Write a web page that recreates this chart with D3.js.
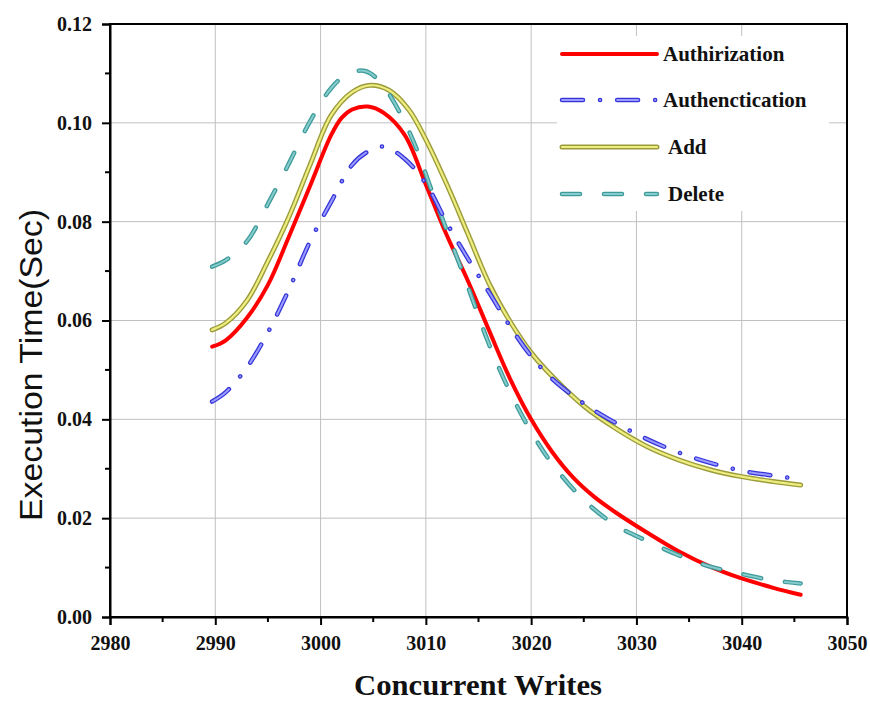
<!DOCTYPE html>
<html><head><meta charset="utf-8">
<script src="https://cdn.jsdelivr.net/npm/d3@7"></script>
<style>body{margin:0;background:#fff}</style>
</head><body>
<svg id="chart" width="870" height="702"></svg>
<script>
const seriesNames = ["Authirization", "Authenctication", "Add", "Delete"];
const xTicks = [2980, 2990, 3000, 3010, 3020, 3030, 3040, 3050];
const yTicks = [0.00, 0.02, 0.04, 0.06, 0.08, 0.10, 0.12];

const authorizationX = [2989.7, 2991, 2993, 2995, 2997, 2999, 3001, 3002, 3003, 3004.5, 3006, 3008, 3010, 3012, 3014, 3016, 3018, 3020, 3022, 3024, 3026, 3028, 3031, 3034, 3037, 3040, 3043, 3045.6];
const authorizationY = [0.0547, 0.0560, 0.0605, 0.0672, 0.0770, 0.0872, 0.0975, 0.1010, 0.1027, 0.1033, 0.1020, 0.0975, 0.0875, 0.0772, 0.0680, 0.0580, 0.0482, 0.0400, 0.0334, 0.0282, 0.0243, 0.0212, 0.0171, 0.0133, 0.0102, 0.0078, 0.0059, 0.0045];

const authenticationX = [2989.7, 2991, 2993, 2995, 2997, 2999, 3001, 3003, 3004.5, 3006, 3008, 3010, 3012, 3014, 3016, 3018, 3020, 3022, 3025, 3028, 3031, 3034, 3037, 3040, 3043, 3045.5];
const authenticationY = [0.0436, 0.0455, 0.0505, 0.0576, 0.0663, 0.0760, 0.0840, 0.0915, 0.0942, 0.0952, 0.0927, 0.0877, 0.0797, 0.0725, 0.0657, 0.0588, 0.0528, 0.0482, 0.0432, 0.0393, 0.0360, 0.0333, 0.0312, 0.0296, 0.0286, 0.0279];

const addX = [2989.7, 2991, 2993, 2995, 2997, 2999, 3001, 3003, 3004.7, 3006.5, 3008.4, 3010, 3012, 3014, 3016, 3018, 3020, 3022, 3025, 3028, 3031, 3034, 3037, 3040, 3043, 3045.6];
const addY = [0.0581, 0.0595, 0.0640, 0.0720, 0.0810, 0.0915, 0.1015, 0.1062, 0.1076, 0.1066, 0.1026, 0.0966, 0.0875, 0.0775, 0.0675, 0.0598, 0.0535, 0.0487, 0.0427, 0.0382, 0.0345, 0.0318, 0.0298, 0.0284, 0.0274, 0.0267];

const deleteX = [2989.7, 2991, 2993, 2995, 2997, 2999, 3001, 3002.5, 3004.2, 3005.6, 3007.5, 3009.2, 3010.5, 3012, 3014, 3016, 3018, 3020, 3022, 3025, 3028, 3031, 3034, 3037, 3040, 3043, 3045.6];
const deleteY = [0.0709, 0.0722, 0.0760, 0.0836, 0.0918, 0.1003, 0.1070, 0.1098, 0.1105, 0.1084, 0.1022, 0.0943, 0.0866, 0.0782, 0.0668, 0.0552, 0.0455, 0.0375, 0.0310, 0.0237, 0.0186, 0.0154, 0.0125, 0.0102, 0.0087, 0.0074, 0.0068];

const svg = d3.select("#chart");
const pLeft = 110, pRight = 847, pTop = 24, pBottom = 617;
const x = d3.scaleLinear().domain([2980, 3050]).range([pLeft, pRight]);
const y = d3.scaleLinear().domain([0, 0.12]).range([pBottom, pTop]);

// grid
const grid = svg.append("g");
xTicks.slice(1, -1).forEach(t => grid.append("line").attr("x1", x(t)).attr("x2", x(t)).attr("y1", pTop).attr("y2", pBottom).attr("stroke", "#c0c0c0").attr("stroke-width", 1));
yTicks.slice(1, -1).forEach(t => grid.append("line").attr("x1", pLeft).attr("x2", pRight).attr("y1", y(t)).attr("y2", y(t)).attr("stroke", "#c0c0c0").attr("stroke-width", 1));

// legend background
svg.append("rect").attr("x", 557).attr("y", 36).attr("width", 272).attr("height", 175).attr("fill", "#fff");

const styles = [
  {outer: "#ff0000", inner: "#ff0000", wo: 4, wi: 4, dash: null},
  {outer: "#3434d8", inner: "#9a9aff", wo: 4.5, wi: 2, dash: "21,17,0.1,17"},
  {outer: "#9c9c3c", inner: "#eeee80", wo: 5, wi: 2.2, dash: null},
  {outer: "#3e9a9a", inner: "#86cccc", wo: 4.5, wi: 2, dash: "18,24"}
];
const data = [
  authorizationX.map((v, i) => [v, authorizationY[i]]),
  authenticationX.map((v, i) => [v, authenticationY[i]]),
  addX.map((v, i) => [v, addY[i]]),
  deleteX.map((v, i) => [v, deleteY[i]])
];
const line = d3.line().x(d => x(d[0])).y(d => y(d[1])).curve(d3.curveCatmullRom.alpha(0.5));

function drawStyled(g, pathD, s) {
  g.append("path").attr("d", pathD).attr("fill", "none").attr("stroke", s.outer).attr("stroke-width", s.wo)
    .attr("stroke-linecap", "round").attr("stroke-linejoin", "round").attr("stroke-dasharray", s.dash);
  if (s.inner !== s.outer)
    g.append("path").attr("d", pathD).attr("fill", "none").attr("stroke", s.inner).attr("stroke-width", s.wi)
      .attr("stroke-linecap", "round").attr("stroke-linejoin", "round").attr("stroke-dasharray", s.dash);
}
const lines = svg.append("g");
[2, 0, 3, 1].forEach(i => drawStyled(lines, line(data[i]), styles[i]));

// legend
const legendY = [54, 100, 147, 194];
const legendTextX = [663, 663, 668, 668];
const lg = svg.append("g");
seriesNames.forEach((n, i) => {
  drawStyled(lg, `M562,${legendY[i]}L657,${legendY[i]}`, styles[i]);
  lg.append("text").attr("x", legendTextX[i]).attr("y", legendY[i] + 7).text(n)
    .attr("font-family", "Liberation Serif, Times New Roman, serif").attr("font-weight", "bold").attr("font-size", 21).attr("fill", "#111");
});

// frame
svg.append("rect").attr("x", pLeft).attr("y", pTop).attr("width", pRight - pLeft).attr("height", pBottom - pTop).attr("fill", "none").attr("stroke", "#000").attr("stroke-width", 2);

// axes
const xAxis = d3.axisBottom(x).tickValues(xTicks).tickSize(8).tickFormat(d3.format("d"));
const gx = svg.append("g").attr("transform", `translate(0,${pBottom})`).call(xAxis);
const yAxis = d3.axisLeft(y).tickValues(yTicks).tickSize(8).tickFormat(d3.format(".2f"));
const gy = svg.append("g").attr("transform", `translate(${pLeft},0)`).call(yAxis);
[gx, gy].forEach(g => {
  g.select(".domain").attr("stroke-width", 2);
  g.selectAll(".tick line").attr("stroke-width", 2);
  g.selectAll("text").attr("font-family", "Liberation Serif, Times New Roman, serif").attr("font-weight", "bold").attr("font-size", 20).attr("fill", "#111");
});
gx.selectAll("text").attr("dy", "1.1em");
gy.selectAll("text").attr("x", -18);
// minor ticks
const xMinor = xTicks.slice(0, -1).map(t => t + 5);
const yMinor = yTicks.slice(0, -1).map(t => t + 0.01);
svg.append("g").selectAll("line").data(xMinor).join("line").attr("x1", d => x(d)).attr("x2", d => x(d)).attr("y1", pBottom).attr("y2", pBottom + 5).attr("stroke", "#000").attr("stroke-width", 2);
svg.append("g").selectAll("line").data(yMinor).join("line").attr("y1", d => y(d)).attr("y2", d => y(d)).attr("x1", pLeft).attr("x2", pLeft - 5).attr("stroke", "#000").attr("stroke-width", 2);

// titles
svg.append("text").attr("x", 478).attr("y", 695).attr("text-anchor", "middle").text("Concurrent Writes")
  .attr("font-family", "Liberation Serif, Times New Roman, serif").attr("font-weight", "bold").attr("font-size", 29)
  .attr("textLength", 248).attr("lengthAdjust", "spacingAndGlyphs").attr("fill", "#111");
svg.append("text").attr("transform", "translate(42,365) rotate(-90)").attr("text-anchor", "middle").text("Execution Time(Sec)")
  .attr("font-family", "Liberation Sans, Arial, sans-serif").attr("font-size", 31)
  .attr("textLength", 312).attr("lengthAdjust", "spacingAndGlyphs").attr("fill", "#111");
</script>
</body></html>
